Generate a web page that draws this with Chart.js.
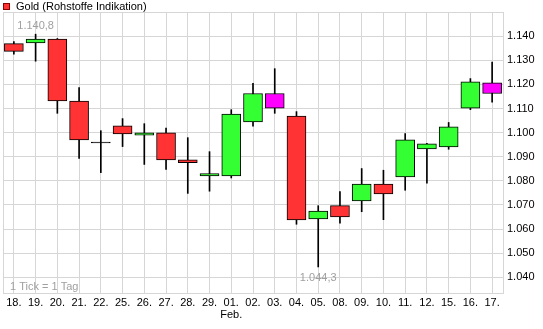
<!DOCTYPE html>
<html>
<head>
<meta charset="utf-8">
<script src="https://cdn.jsdelivr.net/npm/chart.js@4"></script>
<style>
  body { margin: 0; background: #fff; }
</style>
</head>
<body>
<canvas id="c" width="543" height="329"></canvas>
<script>
// trading days (Jan / Feb)
const labels = ["18.", "19.", "20.", "21.", "22.", "25.", "26.", "27.", "28.", "29.", ["01.", "Feb."],
  "02.", "03.", "04.", "05.", "08.", "09.", "10.", "11.", "12.", "15.", "16.", "17."];

const open  = [1136.9, 1137.2, 1138.8, 1113.1, 1095.7, 1102.8, 1098.9, 1099.9, 1088.7, 1082.0, 1082.0,
  1104.4, 1116.2, 1106.9, 1064.2, 1069.7, 1071.7, 1078.7, 1081.6, 1093.2, 1094.1, 1110.1, 1120.6];
const high  = [1137.7, 1140.8, 1139.0, 1118.7, 1100.8, 1105.8, 1103.7, 1101.9, 1097.9, 1092.1, 1109.5,
  1120.4, 1126.5, 1108.7, 1069.7, 1075.5, 1085.1, 1084.4, 1099.6, 1095.5, 1104.2, 1122.4, 1129.2];
const low   = [1132.5, 1129.6, 1108.0, 1089.3, 1083.4, 1094.2, 1086.8, 1084.7, 1074.8, 1075.7, 1081.2,
  1102.7, 1108.0, 1062.0, 1044.3, 1062.4, 1067.2, 1063.9, 1076.1, 1079.0, 1093.1, 1109.5, 1112.6];
const close = [1133.7, 1138.8, 1113.1, 1097.0, 1095.7, 1099.5, 1099.9, 1088.7, 1087.5, 1083.0, 1107.7,
  1116.2, 1110.1, 1063.8, 1067.5, 1065.0, 1078.7, 1074.6, 1097.0, 1095.3, 1102.4, 1121.0, 1116.2];
// candles shown in magenta
const marked = [12, 22];

const yMin = 1033.5, yMax = 1150;

const GREEN = "#33ff33", RED = "#ff3333", PINK = "#ff00ff";
const GRID = "#d6d6d6";

function fmt(v, dec) {
  const s = v.toFixed(dec).split(".");
  const n = parseInt(s[0], 10);
  let out = Math.floor(n / 1000) + "." + String(n % 1000).padStart(3, "0");
  if (dec) out += "," + s[1];
  return out;
}

const bodyColors = labels.map((l, i) => {
  if (marked.includes(i)) return PINK;
  if (close[i] > open[i]) return GREEN;
  if (close[i] < open[i]) return RED;
  return "#000";
});

// index of the highest high / lowest low for the little value notes
const hiIdx = high.indexOf(Math.max(...high));
const loIdx = low.indexOf(Math.min(...low));

const extras = {
  id: "extras",
  beforeDatasetsDraw(chart) {
    const { ctx, chartArea: a } = chart;
    ctx.save();
    ctx.strokeStyle = GRID;
    ctx.lineWidth = 1;
    ctx.strokeRect(Math.round(a.left) + 0.5, Math.round(a.top) + 0.5,
      Math.round(a.right - a.left), Math.round(a.bottom - a.top));
    ctx.fillStyle = "#a0a0a0";
    ctx.font = "11px 'Liberation Sans'";
    ctx.textBaseline = "alphabetic";
    ctx.textAlign = "left";
    ctx.fillText("1 Tick = 1 Tag", 10, 290);
    ctx.restore();
  },
  afterDraw(chart) {
    const { ctx } = chart;
    const x = chart.scales.x, y = chart.scales.y;
    ctx.save();
    ctx.font = "11px 'Liberation Sans'";
    ctx.fillStyle = "#a0a0a0";
    ctx.textAlign = "center";
    ctx.textBaseline = "alphabetic";
    ctx.fillText(fmt(high[hiIdx], 1), x.getPixelForValue(hiIdx), y.getPixelForValue(high[hiIdx]) - 5);
    ctx.fillText(fmt(low[loIdx], 1), x.getPixelForValue(loIdx), y.getPixelForValue(low[loIdx]) + 14);

    // legend
    ctx.fillStyle = RED;
    ctx.fillRect(3, 3, 7, 7);
    ctx.strokeStyle = "#800";
    ctx.strokeRect(3.5, 3.5, 6, 6);
    ctx.fillStyle = "#000";
    ctx.textAlign = "left";
    ctx.fillText("Gold (Rohstoffe Indikation)", 16, 10);
    ctx.restore();
  }
};

new Chart(document.getElementById("c"), {
  type: "bar",
  data: {
    labels: labels,
    datasets: [
      {
        label: "body",
        data: labels.map((l, i) => [open[i], close[i]]),
        backgroundColor: bodyColors,
        borderColor: "#000",
        borderWidth: 1,
        borderSkipped: false,
        barThickness: 19,
        minBarLength: 1,
        grouped: false,
        order: 0
      },
      {
        label: "wick",
        data: labels.map((l, i) => [low[i], high[i]]),
        backgroundColor: "#000",
        borderWidth: 0,
        barThickness: 1,
        grouped: false,
        order: 1
      }
    ]
  },
  options: {
    responsive: false,
    animation: false,
    devicePixelRatio: 1,
    layout: { padding: { left: 3, top: 12, right: 0, bottom: 0 } },
    plugins: { legend: { display: false }, tooltip: { enabled: false } },
    scales: {
      x: {
        offset: true,
        grid: { offset: false, color: GRID, drawTicks: false },
        border: { display: false },
        ticks: {
          color: "#000",
          font: { family: "'Liberation Sans'", size: 11, lineHeight: 1.1 },
          padding: 4,
          autoSkip: false,
          maxRotation: 0
        },
        afterFit(s) { s.height = 36; }
      },
      y: {
        position: "right",
        min: yMin,
        max: yMax,
        grid: { color: GRID, drawTicks: false },
        border: { display: false },
        ticks: {
          stepSize: 10,
          color: "#000",
          font: { family: "'Liberation Sans'", size: 11 },
          padding: 4,
          callback(v) {
            const r = Math.round(v / 10) * 10;
            if (Math.abs(v - r) > 1e-6 || r >= yMax) return "";
            return fmt(r, 0);
          }
        },
        afterFit(s) { s.width = 40; }
      }
    }
  },
  plugins: [extras]
});
</script>
</body>
</html>
